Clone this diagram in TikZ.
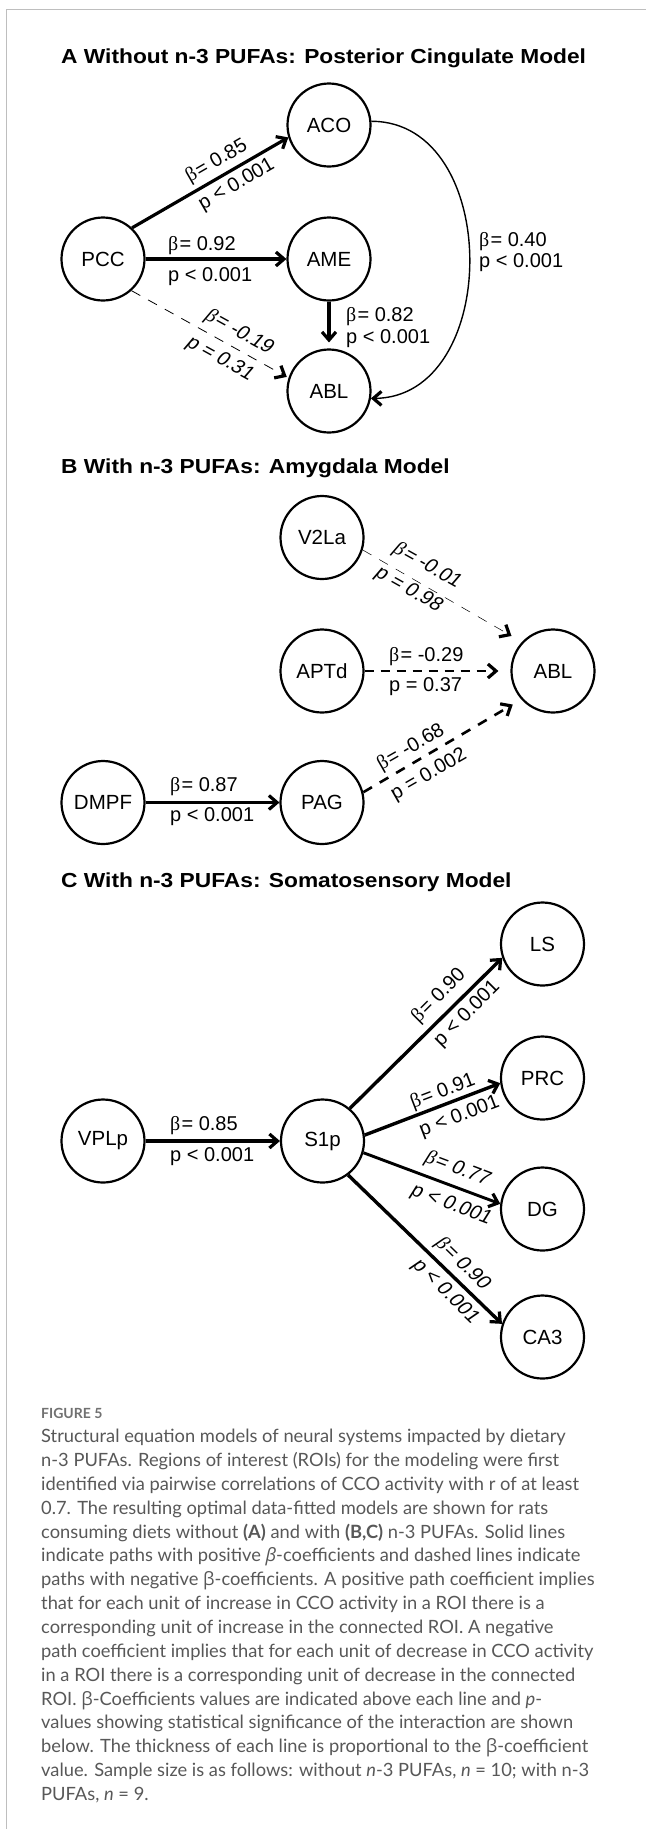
\documentclass[tikz,border=0pt]{standalone}
\usepackage{graphicx}
\usepackage{fontspec}
\setmainfont{Liberation Sans}
\newfontfamily\betafont{Liberation Serif}
\newfontfamily\capfont{Lato}
\newfontfamily\capgreek{Open Sans}
\usetikzlibrary{calc}
\definecolor{capgray}{RGB}{88,88,88}
\definecolor{framegray}{RGB}{190,190,190}
\newcommand{\bb}{{\betafont β}\kern1.2pt}
\newcommand{\cb}{{\capgreek β}}
\newcommand{\ttl}[1]{\scalebox{1.12}[1]{\fontsize{20.3}{24}\selectfont\bfseries #1}}
% chevron arrowhead: tip at #1, pointing away from #2
\newcommand{\mychev}[2]{\draw[chevst] ($(#1)!10.5pt!(#2)!7pt!90:(#2)$) -- ($(#1)!2.4pt!(#2)$) -- ($(#1)!10.5pt!(#2)!7pt!-90:(#2)$);}
\begin{document}
\begin{tikzpicture}[x=1pt,y=-1pt,
  roi/.style={circle, draw, line width=2.2pt, minimum size=83pt, inner sep=0pt, font=\fontsize{20.5}{24}\selectfont},
  lbl/.style={inner sep=0pt, font=\fontsize{20}{24}\selectfont},
  lw/.style={lbl, anchor=base west},
  rl/.style={lbl, rotate=#1},
  sl/.style={lbl, rotate=#1, xslant=0.2},
  conn/.style={line width=#1, shorten >=3pt},
  chevst/.style={line width=3.2pt, line join=miter, solid},
  neg/.style={dash pattern=on 10pt off 9pt},
  ttlnode/.style={anchor=base west, inner sep=0pt},
  capline/.style={anchor=base west, inner sep=0pt, font=\capfont\fontsize{18.3}{22}\selectfont, text=capgray},
]
\path[fill=white] (0,0) rectangle (646,1829);
\useasboundingbox (0,0) rectangle (646,1829);
\draw[framegray, line width=1.5pt] (6.5,1829) -- (6.5,9.5) -- (646,9.5);

% titles
\node[ttlnode] (tA) at (61,63) {\ttl{A Without n-3 PUFAs: Posterior Cingulate Model}};
\node[ttlnode] (tB) at (61,473.3) {\ttl{B With n-3 PUFAs: Amygdala Model}};
\node[ttlnode] (tC) at (61,887) {\ttl{C With n-3 PUFAs: Somatosensory Model}};

% ---------- A ----------
\node[roi] (PCC) at (103,259) {PCC};
\node[roi] (ACO) at (329,125) {ACO};
\node[roi] (AME) at (329,259) {AME};
\node[roi] (ABLa) at (329,391) {ABL};

\coordinate (eA3) at ($(ABLa.north)!6pt!(AME.south)$);
\coordinate (eA4) at ($(ABLa.162)!2pt!(PCC.-48)$);
\coordinate (eA5) at (ABLa.-10);
\coordinate (dA5) at ($(ABLa.-10)+(50,0)$);

\draw[conn=3.2pt] (PCC.47) -- (ACO.197);          \mychev{ACO.197}{PCC.47}
\draw[conn=3.5pt] (PCC.east) -- (AME.west);       \mychev{AME.west}{PCC.east}
\draw[conn=3.1pt] (AME.south) -- (eA3);           \mychev{eA3}{AME.south}
\draw[conn=0.8pt, neg] (PCC.-48) -- (eA4);        \mychev{eA4}{PCC.-48}
\draw[conn=1.4pt] (ACO.5) .. controls +(131,0) and +(131,0) .. (eA5); \mychev{eA5}{dA5}

\node[rl=30] (lA1b) at (216.7,161.7) {\bb= 0.85};
\node[rl=30] (lA1p) at (236.7,185) {p < 0.001};
\node[lw] (lA2b) at (168,250) {\bb= 0.92};
\node[lw] (lA2p) at (168,281) {p < 0.001};
\node[lw] (lA3b) at (346,321.7) {\bb= 0.82};
\node[lw] (lA3p) at (346,343.3) {p < 0.001};
\node[lw] (lA4b) at (479,246) {\bb= 0.40};
\node[lw] (lA4p) at (479,267.5) {p < 0.001};
\node[sl=-29] (lA5b) at (239,332.5) {\bb= -0.19};
\node[sl=-29] (lA5p) at (220,359) {p = 0.31};

% ---------- B ----------
\node[roi] (V2La) at (322,537.5) {V2La};
\node[roi] (APTd) at (322,671) {APTd};
\node[roi] (ABLb) at (553,671) {ABL};
\node[roi] (DMPF) at (103,802.5) {DMPF};
\node[roi] (PAG) at (322,802.5) {PAG};

\coordinate (eB1) at ($(ABLb.137)!12pt!(V2La.-17)$);
\coordinate (eB2) at ($(ABLb.west)!12pt!(APTd.east)$);
\coordinate (eB3) at ($(ABLb.222)!10pt!(PAG.14)$);

\draw[conn=0.5pt, neg] (V2La.-17) -- (eB1);      \mychev{eB1}{V2La.-17}
\draw[conn=1.2pt, dash pattern=on 9pt off 7pt] (APTd.east) -- (eB2); \mychev{eB2}{APTd.east}
\draw[conn=2.6pt, neg] (PAG.14) -- (eB3);         \mychev{eB3}{PAG.14}
\draw[conn=3.3pt] (DMPF.east) -- (PAG.west);      \mychev{PAG.west}{DMPF.east}

\node[sl=-29.3] (lB1b) at (427,566) {\bb= -0.01};
\node[sl=-29.3] (lB1p) at (408.7,590) {p = 0.98};
\node[lw] (lB2b) at (389,661.7) {\bb= -0.29};
\node[lw] (lB2p) at (389,691.7) {p = 0.37};
\node[rl=29.8] (lB3b) at (411,748) {\bb= -0.68};
\node[rl=29.8] (lB3p) at (429,775) {p = 0.002};
\node[lw] (lB4b) at (170,791.7) {\bb= 0.87};
\node[lw] (lB4p) at (170,821.7) {p < 0.001};

% ---------- C ----------
\node[roi] (VPLp) at (103,1141) {VPLp};
\node[roi] (S1p) at (322.5,1141) {S1p};
\node[roi] (LS) at (542.5,944) {LS};
\node[roi] (PRC) at (542.5,1078) {PRC};
\node[roi] (DG) at (542.5,1209) {DG};
\node[roi] (CA3) at (542.5,1337) {CA3};

\draw[conn=3.2pt] (VPLp.east) -- (S1p.west);      \mychev{S1p.west}{VPLp.east}
\draw[conn=3.4pt] (S1p.50) -- (LS.199);           \mychev{LS.199}{S1p.50}
\draw[conn=3.4pt] (S1p.8) -- (PRC.187);           \mychev{PRC.187}{S1p.8}
\draw[conn=2.9pt] (S1p.-16) -- (DG.173);          \mychev{DG.173}{S1p.-16}
\draw[conn=3.4pt] (S1p.-53) -- (CA3.162);         \mychev{CA3.162}{S1p.-53}

\node[lw] (lC1b) at (170,1130.7) {\bb= 0.85};
\node[lw] (lC1p) at (170,1161.7) {p < 0.001};
\node[rl=45] (lC2b) at (439,996.3) {\bb= 0.90};
\node[rl=45] (lC2p) at (467.3,1014) {p < 0.001};
\node[rl=21] (lC3b) at (443,1092) {\bb= 0.91};
\node[rl=21] (lC3p) at (459.5,1117) {p < 0.001};
\node[sl=-20.7] (lC4b) at (457.3,1169) {\bb= 0.77};
\node[sl=-20.7] (lC4p) at (451.3,1205) {p < 0.001};
\node[sl=-44.3] (lC5b) at (462.3,1264) {\bb= 0.90};
\node[sl=-44.3] (lC5p) at (445.3,1291.7) {p < 0.001};

% ---------- caption ----------
\node[anchor=base west, inner sep=0pt, font=\capfont\bfseries\fontsize{14}{16}\selectfont, text=capgray!85] (fig) at (41,1418.3) {FIGURE 5};
\node[capline] (c1) at (41,1442.7) {Structural equation models of neural systems impacted by dietary};
\node[capline] (c2) at (41,1466.55) {n-3 PUFAs. Regions of interest (ROIs) for the modeling were first};
\node[capline] (c3) at (41,1490.4) {identified via pairwise correlations of CCO activity with r of at least};
\node[capline] (c4) at (41,1514.25) {0.7. The resulting optimal data-fitted models are shown for rats};
\node[capline] (c5) at (41,1538.1) {consuming diets without \textbf{(A)} and with \textbf{(B,C)} n-3 PUFAs. Solid lines};
\node[capline] (c6) at (41,1561.95) {indicate paths with positive {\capgreek\itshape β}-coefficients and dashed lines indicate};
\node[capline] (c7) at (41,1585.8) {paths with negative \cb-coefficients. A positive path coefficient implies};
\node[capline] (c8) at (41,1609.65) {that for each unit of increase in CCO activity in a ROI there is a};
\node[capline] (c9) at (41,1633.5) {corresponding unit of increase in the connected ROI. A negative};
\node[capline] (c10) at (41,1657.35) {path coefficient implies that for each unit of decrease in CCO activity};
\node[capline] (c11) at (41,1681.2) {in a ROI there is a corresponding unit of decrease in the connected};
\node[capline] (c12) at (41,1705.05) {ROI. \cb-Coefficients values are indicated above each line and \textit{p}-};
\node[capline] (c13) at (41,1728.9) {values showing statistical significance of the interaction are shown};
\node[capline] (c14) at (41,1752.75) {below. The thickness of each line is proportional to the \cb-coefficient};
\node[capline] (c15) at (41,1776.6) {value. Sample size is as follows: without \textit{n}-3 PUFAs, \textit{n} = 10; with n-3};
\node[capline] (c16) at (41,1800.45) {PUFAs, \textit{n} = 9.};
\end{tikzpicture}
\end{document}
